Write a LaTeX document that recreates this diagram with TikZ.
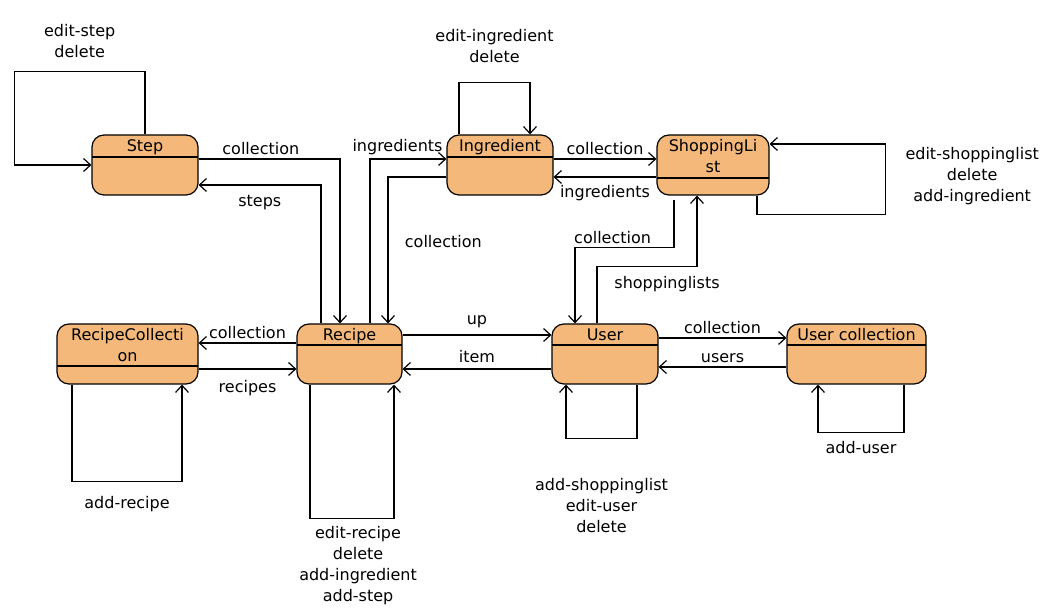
\documentclass[tikz,border=0pt]{standalone}
\usepackage{fontspec}
\setmainfont{DejaVu Sans}
\usetikzlibrary{positioning,arrows.meta}
\definecolor{boxfill}{RGB}{244,184,122}

\begin{document}
\begin{tikzpicture}[>={Straight Barb[length=7pt,width=13pt]},line width=1.2pt,on grid,
    font=\fontsize{16}{21}\selectfont]
    \tikzset{classbox/.style={draw,fill=boxfill,rectangle,rounded corners=12pt,minimum height=60pt,inner sep=0pt},
      head/.style={path picture={\draw ([yshift=-#1]path picture bounding box.north west) -- ([yshift=-#1]path picture bounding box.north east);}},
      boxtitle/.style={anchor=north,align=center,inner sep=4.5pt},
      txt/.style={align=center}}
    \useasboundingbox (0,0) rectangle (1053pt,613pt);
    \node[classbox,head=22pt,minimum width=106pt,label={[boxtitle]north:Step}] (step) at (145pt,448pt) {};
    \node[classbox,head=22pt,minimum width=106pt,label={[boxtitle]north:Ingredient}] (ingredient) [right=355pt of step] {};
    \node[classbox,head=43pt,minimum width=112pt,label={[boxtitle]north:{ShoppingLi\\st}}] (shoplist) [right=213pt of ingredient] {};
    \node[classbox,head=21pt,minimum width=105pt,label={[boxtitle]north:Recipe}] (recipe) [below right=189pt and 204.5pt of step] {};
    \node[classbox,head=42pt,minimum width=141pt,label={[boxtitle]north:{RecipeCollecti\\on}}] (reccoll) [left=222pt of recipe] {};
    \node[classbox,head=21pt,minimum width=106pt,label={[boxtitle]north:User}] (user) [right=255.5pt of recipe] {};
    \node[classbox,head=21pt,minimum width=139pt,label={[boxtitle]north:User collection}] (ucoll) [right=251.5pt of user] {};

    \draw[->] (step.north) -- ++(0,63pt) -| node[pos=0.25,above=10pt,txt]{edit-step\\delete} ([xshift=-77pt]step.west) -- (step.west);
    \draw[->] ([yshift=6pt]step.east) -| node[pos=0.22,above]{collection} ([xshift=-9.5pt]recipe.north);
    \draw[->] ([xshift=-28.5pt]recipe.north) |- node[pos=0.75,below=6pt]{steps} ([yshift=-20pt]step.east);
    \draw[->] ([xshift=20.5pt]recipe.north) |- node[pos=0.68,above]{ingredients} ([yshift=6pt]ingredient.west);
    \draw[->] ([yshift=-12pt]ingredient.west) -| node[pos=0.72,right=13pt]{collection} ([xshift=38.5pt]recipe.north);
    \draw[->] ([xshift=-41pt]ingredient.north) -- ++(0,52pt) -| node[pos=0.25,above=16pt,txt]{edit-ingredient\\delete} ([xshift=30pt]ingredient.north);
    \draw[->] ([yshift=6pt]ingredient.east) -- node[above]{collection} ([yshift=6pt]shoplist.west);
    \draw[->] ([yshift=-12pt]shoplist.west) -- node[below=4pt]{ingredients} ([yshift=-12pt]ingredient.east);
    \draw[->] ([xshift=44pt]shoplist.south) -- ++(0,-19pt) -| node[pos=0.77,right=16pt,txt]{edit-shoppinglist\\delete\\add-ingredient} ([xshift=116pt,yshift=21pt]shoplist.east) -- ([yshift=21pt]shoplist.east);
    \draw[->,shorten <=4pt] ([xshift=-39pt]shoplist.south) -- ++(0,-52pt) -| node[pos=0.31,above]{collection} ([xshift=-30pt]user.north);
    \draw[->] ([xshift=-8pt]user.north) -- ++(0,57pt) -| node[pos=0.35,below=6pt]{shoppinglists} ([xshift=-16pt]shoplist.south);
    \draw[->] ([yshift=11pt]recipe.west) -- node[above]{collection} ([yshift=11pt]reccoll.east);
    \draw[->] ([yshift=-15pt]reccoll.east) -- node[below=7pt]{recipes} ([yshift=-15pt]recipe.west);
    \draw[->] ([xshift=-55.5pt]reccoll.south) -- ++(0,-97pt) -| node[pos=0.25,below=11pt]{add-recipe} ([xshift=54.5pt]reccoll.south);
    \draw[->] ([xshift=-39.5pt]recipe.south) -- ++(0,-134pt) -| node[pos=0.286,below=4pt,txt]{edit-recipe\\delete\\add-ingredient\\add-step} ([xshift=44.5pt]recipe.south);
    \draw[->] ([yshift=19pt]recipe.east) -- node[above=3pt]{up} ([yshift=19pt]user.west);
    \draw[->] ([yshift=-15pt]user.west) -- node[above=2pt]{item} ([yshift=-15pt]recipe.east);
    \draw[->] ([xshift=32pt]user.south) -- ++(0,-54pt) -| node[pos=0.25,below=36pt,txt]{add-shoppinglist\\edit-user\\delete} ([xshift=-39pt]user.south);
    \draw[->] ([yshift=16pt]user.east) -- node[above]{collection} ([yshift=16pt]ucoll.west);
    \draw[->] ([yshift=-13pt]ucoll.west) -- node[above]{users} ([yshift=-13pt]user.east);
    \draw[->] ([xshift=47.5pt]ucoll.south) -- ++(0,-48pt) -| node[pos=0.25,below=5pt]{add-user} ([xshift=-38.5pt]ucoll.south);
  \end{tikzpicture}
\end{document}
